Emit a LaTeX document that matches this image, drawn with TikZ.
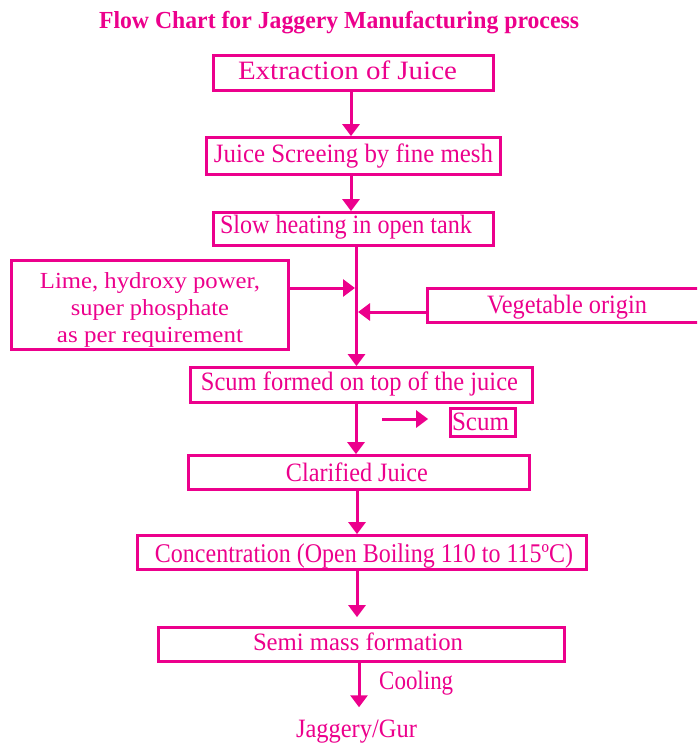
\documentclass[tikz,border=0pt]{standalone}
\usepackage{graphicx}
\usepackage{fontspec}
\setmainfont{Liberation Serif}
\usetikzlibrary{arrows.meta}
\definecolor{pk}{RGB}{236,0,140}
\newcommand\fw[3][0pt]{\leavevmode\kern#1\resizebox{#2}{\height}{#3}}
\tikzset{
  box/.style={draw=pk, line width=2.8pt, inner sep=0pt, text=pk,
    font=\fontsize{26.5}{29}\selectfont, text height=17.5pt, text depth=5pt},
  plain/.style={inner sep=0pt, text=pk, font=\fontsize{26.5}{29}\selectfont},
  arr/.style={draw=pk, line width=3pt, -{Triangle[width=17pt,length=12pt]}},
  ln/.style={draw=pk, line width=3pt}
}
\begin{document}
\begin{tikzpicture}[x=1pt,y=-1pt]
\useasboundingbox (0,0) rectangle (697,744);
\clip (0,0) rectangle (697,744);
% title
\node[plain, font=\bfseries\fontsize{24.5}{28}\selectfont, anchor=base] (title) at (339,28)
  {\fw{480pt}{Flow Chart for Jaggery Manufacturing process}};
% boxes
\node[box, minimum width=280pt, minimum height=35pt] (b1) at (353.5,73)
  {\fw[-12pt]{219pt}{Extraction of Juice}};
\node[box, minimum width=294pt, minimum height=37pt] (b2) at (353.5,156)
  {\fw{279pt}{Juice Screeing by fine mesh}};
\node[box, minimum width=280pt, minimum height=33pt, text depth=9.5pt] (b3) at (353.5,229)
  {\fw[-15pt]{252pt}{Slow heating in open tank}};
\node[box, minimum width=277pt, minimum height=89pt, text height=, text depth=] (lt) at (150,305)
  {\raisebox{0pt}[20pt][54pt]{\parbox[t]{270pt}{\centering\fontsize{23}{27}\selectfont
   \fw{220pt}{Lime, hydroxy power,}\\
   \fw{158pt}{super phosphate}\\
   \fw{186pt}{as per requirement}}}};
\node[box, minimum width=279pt, minimum height=34pt, text depth=2.5pt] (rt) at (567,305.5)
  {\fw{160pt}{Vegetable origin}};
\node[box, minimum width=342pt, minimum height=35pt, text depth=7.5pt] (b4) at (361.5,385)
  {\fw[-4pt]{317pt}{Scum formed on top of the juice}};
\node[box, minimum width=65pt, minimum height=28pt, text depth=2.5pt] (scum) at (483,422.5)
  {\fw[-5pt]{57pt}{Scum}};
\node[box, minimum width=341pt, minimum height=34pt, text depth=0.5pt] (b5) at (359,472.5)
  {\fw[-4pt]{142pt}{Clarified Juice}};
\node[box, minimum width=449pt, minimum height=34pt, text height=19pt, text depth=0pt,
  font=\fontsize{27}{30}\selectfont] (b6) at (362,552.5)
  {\fw[4pt]{418pt}{Concentration (Open Boiling 110 to 115ºC)}};
\node[box, minimum width=406pt, minimum height=34pt, text depth=6pt,
  font=\fontsize{25}{28}\selectfont] (b7) at (361.5,644.5)
  {\fw[-7pt]{210pt}{Semi mass formation}};
\node[plain, anchor=base west] (cool) at (379,689) {\fw{74pt}{Cooling}};
\node[plain, anchor=base] (gur) at (356.5,737) {\fw{121pt}{Jaggery/Gur}};
% junction points
\coordinate (jl) at (355,288);
\coordinate (jr) at (358,312);
\coordinate (sa) at (382,419);
% connectors
\draw[arr] (b1.south -| 351,0) -- (b2.north -| 351,0);
\draw[arr] (b2.south -| 351,0) -- (b3.north -| 351,0);
\draw[arr] (b3.south -| 356.5,0) -- (b4.north -| 356.5,0);
\draw[arr] (lt.east |- jl) -- (jl);
\draw[arr] (rt.west |- jr) -- (jr);
\draw[arr, shorten >=21pt] (sa) -- (sa -| scum.west);
\draw[arr] (b4.south -| 356,0) -- (b5.north -| 356,0);
\draw[arr] (b5.south -| 357,0) -- (b6.north -| 357,0);
\draw[arr, shorten >=9pt] (b6.south -| 357,0) -- (b7.north -| 357,0);
\draw[arr, shorten >=12pt] (b7.south -| 359,0) -- (gur.north -| 359,0);
\end{tikzpicture}
\end{document}
